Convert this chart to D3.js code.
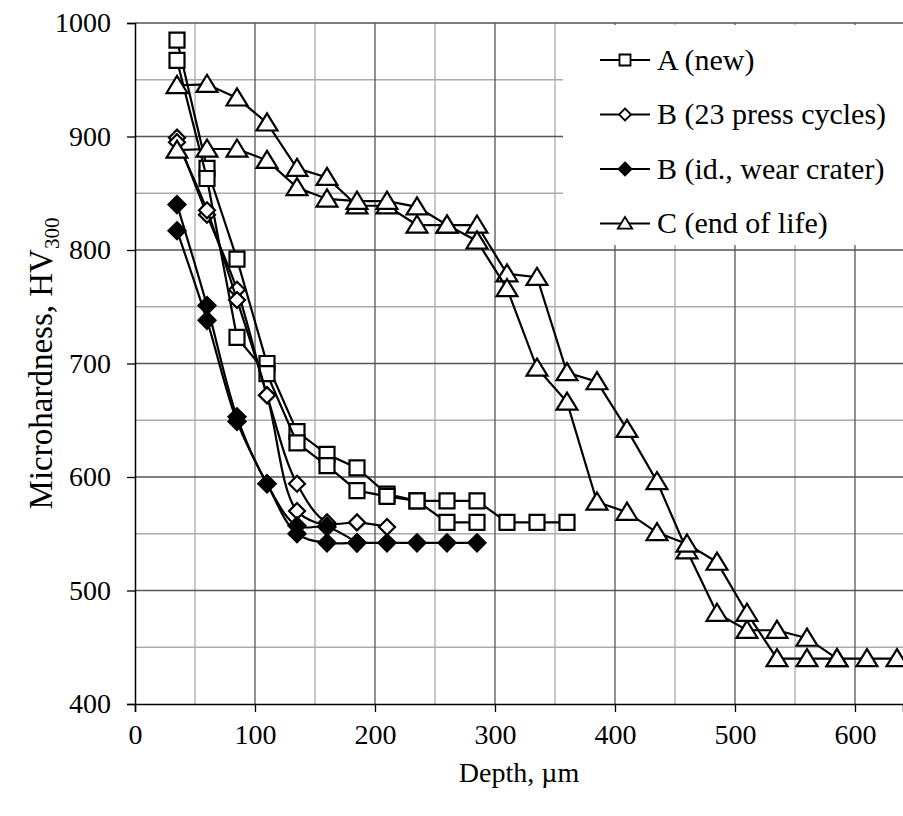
<!DOCTYPE html>
<html>
<head>
<meta charset="utf-8">
<script src="https://cdn.jsdelivr.net/npm/d3@7"></script>
<style>
  body { margin: 0; background: #fff; }
  svg text { font-family: "Liberation Serif", "Times New Roman", serif; fill: #000; }
</style>
</head>
<body>
<svg width="903" height="816"></svg>
<script>
"use strict";

// depth in µm, hardness HV300
var depthA1 = [35, 60, 85, 110, 135, 160, 185, 210, 235, 260, 285, 310, 335, 360],
    hvA1    = [985, 872, 792, 700, 640, 620, 608, 585, 579, 579, 579, 560, 560, 560];
var depthA2 = [35, 60, 85, 110, 135, 160, 185, 210, 235, 260, 285],
    hvA2    = [967, 863, 723, 691, 630, 610, 588, 583, 579, 560, 560];

var depthB1 = [35, 60, 85, 110, 135, 160, 185, 210],
    hvB1    = [899, 831, 765, 672, 594, 560, 560, 556];
var depthB2 = [35, 60, 85, 110, 135, 160],
    hvB2    = [895, 835, 756, 672, 570, 557];

var depthW1 = [35, 60, 85, 110, 135, 160, 185],
    hvW1    = [840, 751, 653, 594, 557, 556, 542];
var depthW2 = [35, 60, 85, 110, 135, 160, 185, 210, 235, 260, 285],
    hvW2    = [817, 738, 649, 594, 550, 542, 542, 542, 542, 542, 542];

var depthC1 = [35, 60, 85, 110, 135, 160, 185, 210, 235, 260, 285, 310, 335, 360, 385, 410, 435, 460, 485, 510, 535, 560, 585],
    hvC1    = [945, 946, 934, 912, 872, 864, 839, 839, 822, 822, 822, 779, 776, 692, 684, 642, 596, 535, 480, 465, 465, 458, 440];
var depthC2 = [35, 60, 85, 110, 135, 160, 185, 210, 235, 260, 285, 310, 335, 360, 385, 410, 435, 460, 485, 510, 535, 560, 585, 610, 635],
    hvC2    = [888, 889, 889, 879, 855, 845, 843, 843, 838, 822, 808, 766, 696, 666, 578, 569, 551, 541, 525, 480, 440, 440, 440, 440, 440];

var legendLabels = ["A (new)", "B (23 press cycles)", "B (id., wear crater)", "C (end of life)"];
var xTicks = [0, 100, 200, 300, 400, 500, 600],
    yTicks = [400, 500, 600, 700, 800, 900, 1000];

var svg = d3.select("svg"),
    margin = {left: 135, top: 23, right: 0, bottom: 112},
    width = +svg.attr("width"),
    height = +svg.attr("height");

var x = d3.scaleLinear().domain([0, 640]).range([margin.left, width - margin.right]);
var y = d3.scaleLinear().domain([400, 1000]).range([height - margin.bottom, margin.top]);

// grid: minor every 50, major every 100
var minorX = d3.range(50, 640, 100), minorY = d3.range(450, 1000, 100);
var grid = svg.append("g");
grid.selectAll("line.mx").data(minorX).enter().append("line")
    .attr("x1", d => x(d)).attr("x2", d => x(d))
    .attr("y1", y(400)).attr("y2", y(1000))
    .attr("stroke", "#ababab").attr("stroke-width", 1.3);
grid.selectAll("line.my").data(minorY).enter().append("line")
    .attr("x1", x(0)).attr("x2", x(640))
    .attr("y1", d => y(d)).attr("y2", d => y(d))
    .attr("stroke", "#ababab").attr("stroke-width", 1.3);
grid.selectAll("line.gx").data(xTicks.slice(1)).enter().append("line")
    .attr("x1", d => x(d)).attr("x2", d => x(d))
    .attr("y1", y(400)).attr("y2", y(1000))
    .attr("stroke", "#555").attr("stroke-width", 1.3);
grid.selectAll("line.gy").data(yTicks.slice(1)).enter().append("line")
    .attr("x1", x(0)).attr("x2", x(640))
    .attr("y1", d => y(d)).attr("y2", d => y(d))
    .attr("stroke", "#555").attr("stroke-width", 1.3);

// legend sits on a white block over the grid
svg.append("rect")
    .attr("x", 563).attr("y", y(1000) + 2)
    .attr("width", width - 563).attr("height", 220)
    .attr("fill", "#fff");

// axes
var xAxis = svg.append("g")
    .attr("transform", "translate(0," + y(400) + ")")
    .call(d3.axisBottom(x).tickValues(xTicks).tickFormat(d3.format("d")).tickSize(8).tickPadding(12));
var yAxis = svg.append("g")
    .attr("transform", "translate(" + x(0) + ",0)")
    .call(d3.axisLeft(y).tickValues(yTicks).tickFormat(d3.format("d")).tickSize(8).tickPadding(16));
[xAxis, yAxis].forEach(function(a) {
  a.select(".domain").attr("stroke", "#000").attr("stroke-width", 1.5);
  a.selectAll(".tick line").attr("stroke", "#000").attr("stroke-width", 1.3);
  a.selectAll(".tick text").style("font-size", "28px").style("font-family", "Liberation Serif");
});

svg.append("text")
    .attr("x", (x(0) + x(640)) / 2).attr("y", 782)
    .attr("text-anchor", "middle")
    .style("font-size", "28px")
    .text("Depth, µm");

var ylab = svg.append("text")
    .attr("transform", "translate(52," + ((y(400) + y(1000)) / 2) + ") rotate(-90)")
    .attr("text-anchor", "middle")
    .style("font-size", "33px");
ylab.append("tspan").text("Microhardness, HV");
ylab.append("tspan").attr("dy", 7).style("font-size", "21px").text("300");

// marker shapes
function markerPath(kind, s) {
  if (kind === "square") return "M" + (-s) + "," + (-s) + "H" + s + "V" + s + "H" + (-s) + "Z";
  if (kind === "diamond") return "M0," + (-s) + "L" + s + ",0L0," + s + "L" + (-s) + ",0Z";
  // triangle, apex up
  return "M0," + (-s) + "L" + (s * 1.1) + "," + (s * 0.8) + "L" + (-s * 1.1) + "," + (s * 0.8) + "Z";
}

var series = [
  {d: depthA1, v: hvA1, kind: "square", fill: "#fff", size: 7.5, smooth: false},
  {d: depthA2, v: hvA2, kind: "square", fill: "#fff", size: 7.5, smooth: false},
  {d: depthB1, v: hvB1, kind: "diamond", fill: "#fff", size: 8, smooth: true},
  {d: depthB2, v: hvB2, kind: "diamond", fill: "#fff", size: 8, smooth: true},
  {d: depthW1, v: hvW1, kind: "diamond", fill: "#000", size: 8.5, smooth: true},
  {d: depthW2, v: hvW2, kind: "diamond", fill: "#000", size: 8.5, smooth: true},
  {d: depthC1, v: hvC1, kind: "triangle", fill: "#fff", size: 9.5, smooth: false},
  {d: depthC2, v: hvC2, kind: "triangle", fill: "#fff", size: 9.5, smooth: false}
];

series.forEach(function(s) {
  var pts = s.d.map((d, i) => [d, s.v[i]]);
  var line = d3.line()
      .x(p => x(p[0])).y(p => y(p[1]))
      .curve(s.smooth ? d3.curveCatmullRom.alpha(0.5) : d3.curveLinear);
  svg.append("path")
      .datum(pts)
      .attr("d", line)
      .attr("fill", "none")
      .attr("stroke", "#000")
      .attr("stroke-width", 2.2);
  svg.append("g").selectAll("path")
      .data(pts)
      .enter().append("path")
      .attr("transform", p => "translate(" + x(p[0]) + "," + y(p[1]) + ")")
      .attr("d", markerPath(s.kind, s.size))
      .attr("fill", s.fill)
      .attr("stroke", "#000")
      .attr("stroke-width", 2.2);
});

// legend
var legendKinds = [["square", "#fff", 5.5], ["diamond", "#fff", 6], ["diamond", "#000", 6.5], ["triangle", "#fff", 6.5]];
var leg = svg.append("g").selectAll("g")
    .data(legendLabels)
    .enter().append("g")
    .attr("transform", (d, i) => "translate(600," + (60 + i * 54.5) + ")");
leg.append("line")
    .attr("x1", 0).attr("x2", 50)
    .attr("stroke", "#000").attr("stroke-width", 2);
leg.append("path")
    .attr("transform", "translate(25,0)")
    .attr("d", (d, i) => markerPath(legendKinds[i][0], legendKinds[i][2]))
    .attr("fill", (d, i) => legendKinds[i][1])
    .attr("stroke", "#000").attr("stroke-width", 1.8);
leg.append("text")
    .attr("x", 57).attr("dy", "0.33em")
    .style("font-size", "30px")
    .text(d => d);
</script>
</body>
</html>
